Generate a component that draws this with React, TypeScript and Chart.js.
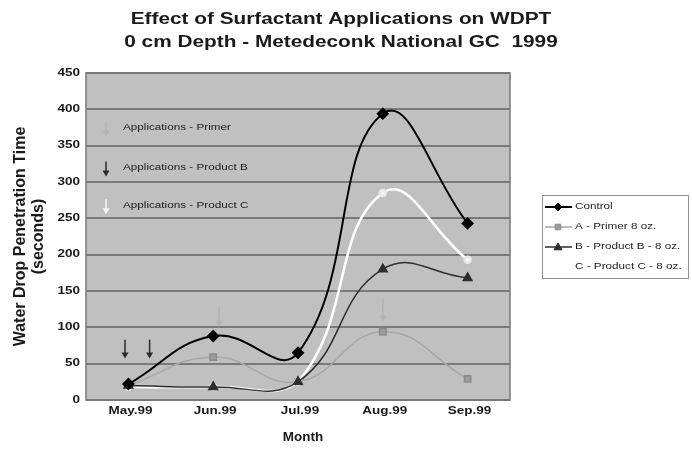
import React, { useEffect, useRef } from 'react';
import { Chart, registerables } from 'chart.js';
Chart.register(...registerables);

const months = ['May.99', 'Jun.99', 'Jul.99', 'Aug.99', 'Sep.99'];
const control = [22, 88, 65, 394, 243];
const primer = [20, 59, 25, 94, 29];
const productB = [20, 18, 25, 180, 168];
const productC = [18, 18, 25, 285, 193];
const seriesLabels = ['Control', 'A - Primer 8 oz.', 'B - Product B - 8 oz.', 'C - Product C - 8 oz.'];
const titleLines = ['Effect of Surfactant Applications on WDPT', '0 cm Depth - Metedeconk National GC  1999'];
const yTitle = ['Water Drop Penetration Time', '(seconds)'];
const xTitle = 'Month';
const yTicksMax = 450;
const yTicksStep = 50;
// application arrows (category index position, top value, tip value)
const primerArrowX = [1.07, 3.0];
const primerArrowTop = [128, 140];
const primerArrowTip = [100, 108];
const productBArrowX = [-0.04, 0.25];
const productBArrowTop = [83, 83];
const productBArrowTip = [57, 57];
const appNoteLabels = ['Applications - Primer', 'Applications - Product B', 'Applications - Product C'];
const appNoteValues = [375, 320, 268];

const FONT = '"Liberation Sans", Arial, sans-serif';
const TEXT = '#1a1a1a';
const SX = 1.3; // horizontal text stretch
const arrowColors = ['#b4b4b4', '#2a2a2a', '#f4f4f4'];

function fillStretched(ctx: CanvasRenderingContext2D, text: string, x: number, y: number, sx: number) {
  ctx.save();
  ctx.translate(x, y);
  ctx.scale(sx, 1);
  ctx.fillText(text, 0, 0);
  ctx.restore();
}

function drawArrow(ctx: CanvasRenderingContext2D, x: number, y1: number, y2: number, color: string) {
  ctx.save();
  ctx.strokeStyle = color;
  ctx.fillStyle = color;
  ctx.lineWidth = 1.5;
  ctx.beginPath();
  ctx.moveTo(x, y1);
  ctx.lineTo(x, y2 - 5);
  ctx.stroke();
  ctx.beginPath();
  ctx.moveTo(x - 3.5, y2 - 6);
  ctx.lineTo(x + 3.5, y2 - 6);
  ctx.lineTo(x, y2);
  ctx.closePath();
  ctx.fill();
  ctx.restore();
}

function drawMarker(ctx: CanvasRenderingContext2D, style: string, cx: number, cy: number, r: number) {
  ctx.beginPath();
  if (style === 'rectRot') {
    ctx.moveTo(cx, cy - r); ctx.lineTo(cx + r, cy); ctx.lineTo(cx, cy + r); ctx.lineTo(cx - r, cy);
  } else if (style === 'rect') {
    ctx.rect(cx - r * 0.8, cy - r * 0.8, r * 1.6, r * 1.6);
  } else if (style === 'triangle') {
    ctx.moveTo(cx, cy - r); ctx.lineTo(cx + r, cy + r * 0.7); ctx.lineTo(cx - r, cy + r * 0.7);
  } else {
    ctx.arc(cx, cy, r, 0, Math.PI * 2);
  }
  ctx.closePath();
  ctx.fill();
  ctx.stroke();
}

const decorPlugin = {
  id: 'decor',
  beforeDraw(chart: any) {
    const { ctx, chartArea } = chart;
    ctx.save();
    ctx.fillStyle = '#ffffff';
    ctx.fillRect(0, 0, chart.width, chart.height);
    ctx.fillStyle = '#c0c0c0';
    ctx.fillRect(chartArea.left, chartArea.top, chartArea.right - chartArea.left, chartArea.bottom - chartArea.top);
    ctx.restore();
  },
  beforeDatasetsDraw(chart: any) {
    const { ctx, chartArea, scales } = chart;
    const x = scales.x, y = scales.y;
    ctx.save();
    ctx.strokeStyle = '#7a7a7a';
    ctx.lineWidth = 1.5;
    ctx.strokeRect(chartArea.left, chartArea.top, chartArea.right - chartArea.left, chartArea.bottom - chartArea.top);
    primerArrowX.forEach((v, i) => drawArrow(ctx, x.getPixelForValue(v), y.getPixelForValue(primerArrowTop[i]), y.getPixelForValue(primerArrowTip[i]), arrowColors[0]));
    productBArrowX.forEach((v, i) => drawArrow(ctx, x.getPixelForValue(v), y.getPixelForValue(productBArrowTop[i]), y.getPixelForValue(productBArrowTip[i]), arrowColors[1]));
    ctx.font = `9px ${FONT}`;
    ctx.textBaseline = 'middle';
    ctx.textAlign = 'left';
    appNoteLabels.forEach((t, i) => {
      const py = y.getPixelForValue(appNoteValues[i]);
      ctx.fillStyle = TEXT;
      fillStretched(ctx, t, chartArea.left + 37, py, SX);
      drawArrow(ctx, chartArea.left + 20, py - 6, py + 9, arrowColors[i]);
    });
    ctx.restore();
  },
  afterDraw(chart: any) {
    const { ctx, chartArea, scales } = chart;
    ctx.save();
    ctx.fillStyle = TEXT;
    ctx.textBaseline = 'middle';
    // title
    ctx.font = `bold 16px ${FONT}`;
    ctx.textAlign = 'center';
    fillStretched(ctx, titleLines[0], 341, 20, SX);
    fillStretched(ctx, titleLines[1], 341, 43, SX);
    // tick labels from the library's scales
    ctx.font = `bold 10px ${FONT}`;
    ctx.textAlign = 'right';
    scales.y.ticks.forEach((t: any, i: number) => {
      fillStretched(ctx, String(t.label), chartArea.left - 6, scales.y.getPixelForTick(i), 1.35);
    });
    ctx.textAlign = 'center';
    scales.x.ticks.forEach((t: any, i: number) => {
      fillStretched(ctx, String(t.label), scales.x.getPixelForTick(i) + 2, chartArea.bottom + 11, 1.35);
    });
    // axis titles
    ctx.font = `bold 12px ${FONT}`;
    fillStretched(ctx, xTitle, (chartArea.left + chartArea.right) / 2 + 5, chartArea.bottom + 38, 1.12);
    ctx.font = `bold 16px ${FONT}`;
    const cy = (chartArea.top + chartArea.bottom) / 2;
    yTitle.forEach((line, i) => {
      ctx.save();
      ctx.translate(21 + i * 18, cy);
      ctx.rotate(-Math.PI / 2);
      ctx.fillText(line, 0, 0);
      ctx.restore();
    });
    // legend
    const bx = chartArea.right + 32;
    const by = 195;
    ctx.strokeStyle = '#909090';
    ctx.lineWidth = 1;
    ctx.strokeRect(bx + 0.5, by + 0.5, 146, 83);
    ctx.font = `9px ${FONT}`;
    ctx.textAlign = 'left';
    chart.data.datasets.forEach((ds: any, i: number) => {
      const ry = by + 12 + i * 20;
      ctx.strokeStyle = ds.borderColor;
      ctx.lineWidth = ds.borderWidth;
      ctx.beginPath();
      ctx.moveTo(bx + 3, ry);
      ctx.lineTo(bx + 30, ry);
      ctx.stroke();
      if (i < 3) {
        ctx.fillStyle = ds.pointBackgroundColor;
        ctx.strokeStyle = ds.pointBorderColor;
        ctx.lineWidth = 1;
        drawMarker(ctx, ds.pointStyle, bx + 16, ry, ds.pointRadius - 1);
      }
      ctx.fillStyle = TEXT;
      fillStretched(ctx, ds.label, bx + 33, ry, SX);
    });
    ctx.restore();
  },
};

export default function App() {
  const ref = useRef<HTMLCanvasElement>(null);
  useEffect(() => {
    if (!ref.current) return;
    const chart = new Chart(ref.current, {
      type: 'line',
      data: {
        labels: months,
        datasets: [
          {
            label: seriesLabels[0], data: control, borderColor: '#000000', borderWidth: 2,
            pointStyle: 'rectRot', pointRadius: 5, pointBackgroundColor: '#000000', pointBorderColor: '#000000',
            tension: 0.45, order: 0,
          },
          {
            label: seriesLabels[1], data: primer, borderColor: '#a6a6a6', borderWidth: 1.5,
            pointStyle: 'rect', pointRadius: 4.5, pointBackgroundColor: '#9c9c9c', pointBorderColor: '#8a8a8a',
            tension: 0.45, order: 3,
          },
          {
            label: seriesLabels[2], data: productB, borderColor: '#2e2e2e', borderWidth: 1.5,
            pointStyle: 'triangle', pointRadius: 5, pointBackgroundColor: '#2e2e2e', pointBorderColor: '#2e2e2e',
            tension: 0.45, order: 1,
          },
          {
            label: seriesLabels[3], data: productC, borderColor: '#ffffff', borderWidth: 2.5,
            pointStyle: 'circle', pointRadius: 3, pointBackgroundColor: '#ffffff', pointBorderColor: '#e8e8e8',
            tension: 0.45, order: 2,
          },
        ],
      },
      options: {
        responsive: false,
        animation: false,
        layout: { padding: { top: 73, right: 182, left: 0, bottom: 0 } },
        plugins: { legend: { display: false }, title: { display: false }, tooltip: { enabled: false } },
        scales: {
          x: {
            offset: true,
            grid: { display: false, drawTicks: false },
            border: { display: false },
            ticks: { display: false },
            afterFit: (s: any) => { s.height = 49; },
          },
          y: {
            min: 0, max: yTicksMax,
            ticks: { stepSize: yTicksStep, display: false },
            grid: { color: '#7a7a7a', lineWidth: 2, drawTicks: false },
            border: { display: false },
            afterFit: (s: any) => { s.width = 86; },
          },
        },
      },
      plugins: [decorPlugin],
    } as any);
    return () => chart.destroy();
  }, []);
  return (
    <div style={{ position: 'absolute', left: 0, top: 0, width: 692, height: 449, background: '#fff' }}>
      <canvas ref={ref} width={692} height={449} style={{ display: 'block' }} />
    </div>
  );
}
